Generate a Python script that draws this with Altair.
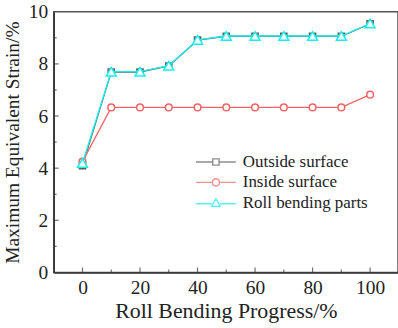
import altair as alt
import pandas as pd

progress = [0, 10, 20, 30, 40, 50, 60, 70, 80, 90, 100]
outside = [4.1, 7.69, 7.69, 7.92, 8.91, 9.06, 9.06, 9.06, 9.06, 9.06, 9.54]
inside = [4.25, 6.33, 6.33, 6.33, 6.33, 6.33, 6.33, 6.33, 6.33, 6.33, 6.82]
roll = [4.2, 7.7, 7.7, 7.93, 8.92, 9.07, 9.07, 9.07, 9.07, 9.07, 9.55]

series = ["Outside surface", "Inside surface", "Roll bending parts"]
colors = ["#5e5e5e", "#f26464", "#18f0f0"]
shapes = ["square", "circle", "triangle-up"]
sizes = [38, 45, 100]
values = [outside, inside, roll]

x_major = [0, 20, 40, 60, 80, 100]
x_minor = [10, 30, 50, 70, 90]
y_major = [2, 4, 6, 8]
y_minor = [1, 3, 5, 7, 9]

W, H = 346, 262
FONT = "Liberation Serif"

line_seg = "M-2.2,0L-0.4,0M0.4,0L2.2,0"
legend_paths = [
    "M-2.2,0L-0.35,0M0.35,0L2.2,0M-0.35,-0.35L0.35,-0.35L0.35,0.35L-0.35,0.35Z",
    line_seg + "M-0.4,0A0.4,0.4 0 1,0 0.4,0A0.4,0.4 0 1,0 -0.4,0Z",
    "M-2.2,0.1L-0.45,0.1M0.45,0.1L2.2,0.1M0,-0.45L0.48,0.38L-0.48,0.38Z",
]

xs = alt.Scale(domain=[-10, 109.7], nice=False, zero=False)
ys = alt.Scale(domain=[0, 10], nice=False)

xaxis = alt.Axis(values=x_major, ticks=False, labelFont=FONT, labelFontSize=19.5,
                 labelColor="#222", labelPadding=6, title="Roll Bending Progress/%",
                 titleFont=FONT, titleFontSize=22, titleFontWeight="normal",
                 titleColor="#222", titlePadding=4, grid=False,
                 domainColor="#333", domainWidth=1.5)
yaxis = alt.Axis(values=[0, 2, 4, 6, 8, 10], ticks=False, labelFont=FONT, labelFontSize=19.5,
                 labelColor="#222", labelPadding=6, title="Maximum Equivalent Strain/%",
                 titleFont=FONT, titleFontSize=19.5, titleFontWeight="normal",
                 titleColor="#222", titlePadding=6, grid=False,
                 domainColor="#333", domainWidth=1.5)

layers = []
for name, col, shp, sz, vals in zip(series, colors, shapes, sizes, values):
    df = pd.DataFrame({"progress": progress, "strain": vals, "series": name})
    base = alt.Chart(df).encode(
        x=alt.X("progress:Q", scale=xs, axis=xaxis),
        y=alt.Y("strain:Q", scale=ys, axis=yaxis),
    )
    layers.append(base.mark_line(color=col, strokeWidth=1.3))
    layers.append(base.mark_point(shape=shp, color=col, fill="white", filled=False,
                                  opacity=1, size=sz, strokeWidth=1.5))

# legend layer (no data drawn)
leg_df = pd.DataFrame({"progress": [0, 0, 0], "strain": [0, 0, 0], "series": series})
legend_layer = alt.Chart(leg_df).transform_filter("false").mark_point(
    filled=False, fill="white", size=60
).encode(
    x=alt.X("progress:Q", scale=xs, axis=xaxis),
    y=alt.Y("strain:Q", scale=ys, axis=yaxis),
    color=alt.Color("series:N", scale=alt.Scale(domain=series, range=colors),
                    sort=series, title=None),
    shape=alt.Shape("series:N", scale=alt.Scale(domain=series, range=legend_paths),
                    sort=series, title=None,
                    legend=alt.Legend(orient="none", legendX=153, legendY=141,
                                      symbolSize=330, symbolStrokeWidth=1.4,
                                      symbolFillColor="white", labelFont=FONT,
                                      labelFontSize=17, labelColor="#222",
                                      labelOffset=17, rowPadding=2.5,
                                      padding=0, title=None)),
)
layers.append(legend_layer)

# inward ticks
xt_major = pd.DataFrame({"progress": x_major})
xt_minor = pd.DataFrame({"progress": x_minor})
yt_major = pd.DataFrame({"strain": y_major})
yt_minor = pd.DataFrame({"strain": y_minor})
tick_col = "#333"
layers.append(alt.Chart(xt_major).mark_tick(orient="vertical", size=5, thickness=1.2,
                                            color=tick_col, yOffset=-2.5).encode(
    x=alt.X("progress:Q", scale=xs), y=alt.value(H)))
layers.append(alt.Chart(xt_minor).mark_tick(orient="vertical", size=3, thickness=1.2,
                                            color=tick_col, yOffset=-1.5).encode(
    x=alt.X("progress:Q", scale=xs), y=alt.value(H)))
layers.append(alt.Chart(yt_major).mark_tick(orient="horizontal", size=5, thickness=1.2,
                                            color=tick_col, xOffset=2.5).encode(
    y=alt.Y("strain:Q", scale=ys), x=alt.value(0)))
layers.append(alt.Chart(yt_minor).mark_tick(orient="horizontal", size=3, thickness=1.2,
                                            color=tick_col, xOffset=1.5).encode(
    y=alt.Y("strain:Q", scale=ys), x=alt.value(0)))

chart = alt.layer(*layers).properties(
    width=W, height=H,
    autosize=alt.AutoSizeParams(type="none"),
    padding={"left": 54, "top": 11, "right": 0, "bottom": 55},
    background="white",
).configure_view(stroke="#555", strokeWidth=1.5)

chart.save("out.html", embed_options={"renderer": "svg", "actions": False})
